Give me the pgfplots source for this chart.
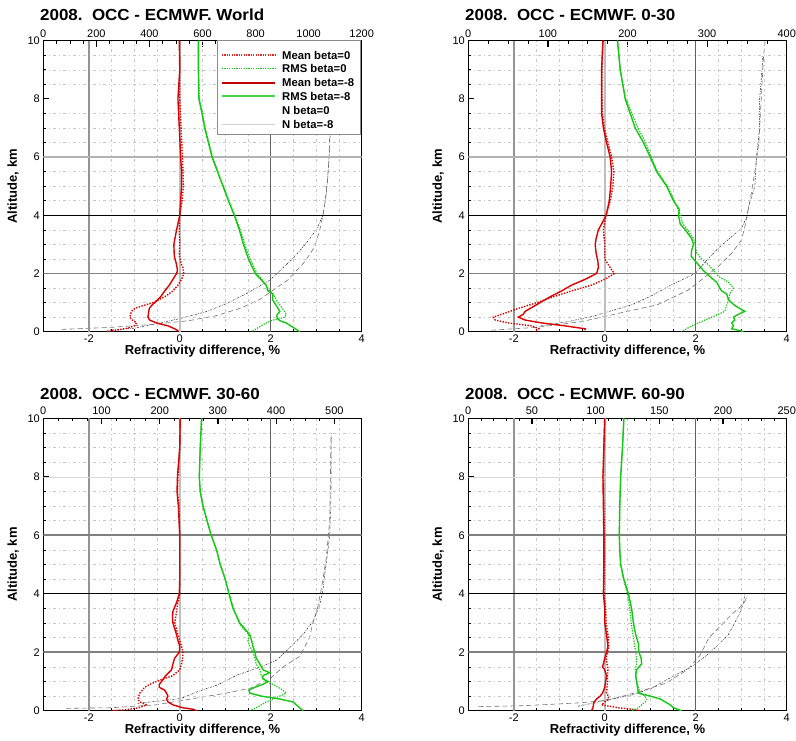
\documentclass[border=0pt]{standalone}
\usepackage{graphicx}
\usepackage{pgfplots}
\pgfplotsset{compat=1.18}
\usepackage{fontspec}
\setmainfont{Liberation Sans}
\setsansfont{Liberation Sans}

\definecolor{cred}{RGB}{220,0,0}
\definecolor{cgreen}{RGB}{20,200,20}
\definecolor{clgreen}{RGB}{70,215,70}

\pgfplotsset{
  mean0/.style={color=cred, line width=1.4pt, dash pattern=on 1.4pt off 1.4pt},
  mean8/.style={color=cred, line width=1.4pt, solid},
  rms0/.style={color=cgreen, line width=1.2pt, dash pattern=on 1.3pt off 1.3pt},
  rms8/.style={color=cgreen, line width=1.4pt, solid},
  n0/.style={color=black!85, line width=0.5pt, dash pattern=on 2pt off 1.2pt on 0.6pt off 1.2pt},
  n8/.style={color=black!55, line width=0.6pt, dash pattern=on 5pt off 3pt},
  common/.style={
    scale only axis, width=318.4pt, height=291pt, anchor=south west,
    ymin=0, ymax=10, no markers,
    tick align=inside,
    major tick length=6pt, minor tick length=3pt,
    major tick style={black, line width=1.2pt},
    minor tick style={black, line width=0.6pt},
    ticklabel style={font=\fontsize{11}{13}\selectfont},
    /pgf/number format/assume math mode=true,
    /pgf/number format/1000 sep={},
    scaled ticks=false,
  },
  mainax/.style={
    common,
    xmin=-3, xmax=4,
    xtick={-2,0,2,4}, ytick={0,2,4,6,8,10},
    minor x tick num=3, minor y tick num=3,
    xminorgrids=true, yminorgrids=true,
    minor grid style={black!22, dash pattern=on 3pt off 3pt on 1pt off 3pt, line width=0.5pt},
    xtick pos=left, ytick pos=left,
    axis line style={line width=1.4pt},
    xlabel={Refractivity difference, \%}, ylabel={Altitude, km},
    label style={font=\fontsize{13}{15}\selectfont\bfseries},
    xlabel style={at={(axis description cs:0.5,-0.068)}, anchor=center},
    ylabel style={at={(axis description cs:-0.095,0.5)}, anchor=center},
  },
  topax/.style={
    common,
    axis x line*=top, axis y line=none,
    axis line style={-, line width=1.4pt},
  },
}

\newcommand{\majorlines}[2]{%
  \draw[black!42, line width=1.6pt] (axis cs:-2,0) -- (axis cs:-2,10);
  \draw[black!25, line width=1.6pt] (axis cs:0,0) -- (axis cs:0,10);
  \draw[black!62, line width=1.2pt] (axis cs:2,0) -- (axis cs:2,10);
  \draw[black!50, line width=1.8pt] (axis cs:-3,2) -- (axis cs:4,2);
  \draw[black, line width=0.8pt] (axis cs:-3,4) -- (axis cs:4,4);
  \draw[#1] (axis cs:-3,6) -- (axis cs:4,6);
  \draw[#2] (axis cs:-3,8) -- (axis cs:4,8);
}
\newcommand{\ttl}[1]{\fontsize{16}{19}\selectfont\bfseries\scalebox{1.06}[1]{#1}}
\newcommand{\lrow}[3]{% y, style, text
  \draw[#2] (222pt,#1) -- (275pt,#1);
  \node[anchor=west, inner sep=0pt, font=\fontsize{11.3}{13.5}\selectfont\bfseries] at (282pt,#1) {#3};
}

\begin{document}
\begin{tikzpicture}
\useasboundingbox (0pt,0pt) rectangle (796pt,740pt);

%================ Panel 1: World
\begin{axis}[topax, at={(43.3pt,408.3pt)}, xmin=0, xmax=1200, xtick={0,200,...,1200}, minor x tick num=3]
\addplot[n0] coordinates {(240,0.05) (343,0.12) (411,0.25) (514,0.45) (615,0.69) (691,0.97) (766,1.31) (854,1.77) (941,2.52) (991,3.04) (1029,3.5) (1054,4.01) (1061,4.41) (1066,4.75) (1072,5.3) (1076,5.8) (1080,6.5) (1082,7.0) (1085,8) (1088,9) (1090,10)};
\addplot[n8] coordinates {(69,0.08) (257,0.15) (411,0.25) (549,0.38) (651,0.55) (741,0.8) (816,1.11) (922,1.78) (986,2.41) (1023,2.92) (1042,3.5) (1054,4.0) (1063,4.5) (1071,5.2) (1077,6.0) (1080,7.0) (1084,8) (1087,9) (1089,10)};
\end{axis}
\begin{axis}[mainax, at={(43.3pt,408.3pt)}]
\majorlines{black!30, line width=1.6pt}{draw=none}
\addplot[mean0] coordinates {(0.0,10) (0.0,9) (0.0,8) (0.03,7) (0.06,6) (0.08,5) (0.05,4.5) (0.0,4) (-0.01,3.5) (0.0,3) (-0.01,2.6) (0.04,2.3) (0.07,2.2) (0.09,2.0) (0.04,1.8) (-0.04,1.6) (-0.15,1.4) (-0.33,1.2) (-0.59,1.0) (-0.8,0.9) (-0.99,0.8) (-1.06,0.7) (-1.1,0.5) (-1.04,0.4) (-0.95,0.3) (-1.0,0.2) (-1.15,0.12) (-1.4,0.05) (-1.6,0.0)};
\addplot[rms0] coordinates {(0.41,10) (0.41,9) (0.43,8) (0.5,7.5) (0.56,7) (0.64,6.5) (0.72,6) (0.84,5.5) (0.96,5) (1.08,4.5) (1.21,4) (1.33,3.5) (1.43,3) (1.55,2.5) (1.7,2.0) (1.85,1.7) (1.98,1.4) (2.09,1.2) (2.16,1.0) (2.26,0.8) (2.34,0.6) (2.31,0.5) (2.2,0.45) (2.05,0.4) (1.9,0.3) (1.79,0.2) (1.68,0.1) (1.58,0.0)};
\addplot[mean8] coordinates {(-0.01,10) (0.0,9) (-0.04,8) (-0.01,7) (0.02,6) (0.04,5.5) (0.04,5) (0.02,4.5) (0,4) (-0.07,3.5) (-0.13,3) (-0.12,2.6) (-0.07,2.3) (-0.05,2.1) (-0.07,2) (-0.15,1.8) (-0.23,1.6) (-0.33,1.4) (-0.42,1.2) (-0.55,1.0) (-0.62,0.9) (-0.67,0.8) (-0.69,0.6) (-0.7,0.5) (-0.66,0.4) (-0.51,0.3) (-0.26,0.2) (-0.11,0.1) (-0.03,0.02)};
\addplot[rms8] coordinates {(0.41,10) (0.41,9) (0.42,8) (0.49,7.5) (0.55,7) (0.63,6.5) (0.71,6) (0.83,5.5) (0.95,5) (1.07,4.5) (1.2,4) (1.31,3.5) (1.4,3) (1.51,2.5) (1.66,2.0) (1.78,1.8) (1.9,1.6) (1.94,1.4) (2.05,1.3) (2.04,1.1) (2.08,1.0) (2.14,0.85) (2.2,0.7) (2.13,0.55) (2.15,0.45) (2.2,0.38) (2.34,0.3) (2.49,0.15) (2.64,0.0)};
\end{axis}

%================ Panel 2: 0-30
\begin{axis}[topax, at={(468.3pt,408.3pt)}, xmin=0, xmax=400, xtick={0,100,...,400}, minor x tick num=3]
\addplot[n0] coordinates {(91,0.2) (126,0.35) (155,0.52) (176,0.69) (205,0.92) (230,1.23) (255,1.61) (285,2.0) (298,2.41) (314,2.87) (331,3.27) (343,3.55) (350,3.95) (352,4.3) (360,5) (362,6) (366,7) (366,8) (369,9) (370,9.5)};
\addplot[n8] coordinates {(29,0.05) (86,0.15) (143,0.35) (200,0.7) (237,0.92) (255,1.15) (277,1.44) (314,2.24) (331,2.7) (343,3.15) (347,3.55) (354,4.5) (360,5.5) (365,6.5) (367,7.5) (369,8.5) (371,9.5) (373,10)};
\end{axis}
\begin{axis}[mainax, at={(468.3pt,408.3pt)}]
\majorlines{black!30, line width=1.6pt}{draw=none}
\addplot[mean0] coordinates {(-0.04,10) (-0.06,9) (-0.06,8) (-0.05,7.5) (-0.01,7) (0.07,6.5) (0.15,6) (0.2,5.5) (0.18,5) (0.12,4.5) (0.03,4) (-0.03,3.5) (0.0,3) (0.0,2.5) (0.12,2.2) (0.21,2.0) (0.0,1.8) (-0.29,1.6) (-0.73,1.4) (-1.13,1.2) (-1.49,1.0) (-1.9,0.8) (-2.26,0.6) (-2.45,0.5) (-2.41,0.4) (-2.12,0.3) (-1.6,0.2) (-1.45,0.1) (-1.55,0.0)};
\addplot[rms0] coordinates {(0.28,10) (0.34,9) (0.46,8) (0.6,7.5) (0.73,7) (0.9,6.5) (1.02,6) (1.16,5.5) (1.38,5) (1.53,4.5) (1.66,4) (1.72,3.7) (1.82,3.5) (1.95,3.2) (1.99,3.0) (2.02,2.7) (2.13,2.5) (2.28,2.3) (2.39,2.1) (2.5,1.9) (2.72,1.7) (2.83,1.5) (2.75,1.3) (2.72,1.1) (2.68,0.9) (2.64,0.7) (2.35,0.5) (2.2,0.4) (2.06,0.3) (1.91,0.2) (1.8,0.1) (1.69,0.0)};
\addplot[mean8] coordinates {(-0.04,10) (-0.07,9) (-0.07,8) (-0.07,7.5) (-0.03,7) (0.04,6.5) (0.12,6) (0.15,5.5) (0.13,5) (0.1,4.5) (0.03,4) (-0.07,3.7) (-0.14,3.5) (-0.19,3.2) (-0.21,3.0) (-0.19,2.7) (-0.15,2.4) (-0.14,2.2) (-0.18,2.0) (-0.43,1.8) (-0.73,1.6) (-0.95,1.4) (-1.2,1.2) (-1.42,1.0) (-1.53,0.9) (-1.75,0.7) (-1.79,0.6) (-1.9,0.5) (-1.75,0.4) (-1.38,0.3) (-0.87,0.2) (-0.43,0.1) (-0.44,0.05)};
\addplot[rms8] coordinates {(0.28,10) (0.34,9) (0.45,8) (0.56,7.5) (0.67,7) (0.85,6.5) (1.0,6) (1.14,5.5) (1.36,5) (1.51,4.5) (1.64,4.2) (1.62,4) (1.66,3.7) (1.77,3.5) (1.91,3.2) (1.95,3.0) (1.91,2.8) (1.9,2.6) (1.95,2.5) (2.06,2.3) (2.17,2.1) (2.31,1.9) (2.46,1.7) (2.53,1.5) (2.57,1.4) (2.68,1.3) (2.72,1.1) (2.86,0.9) (2.97,0.8) (3.08,0.7) (2.94,0.6) (2.83,0.5) (2.86,0.4) (2.79,0.3) (2.83,0.2) (2.79,0.1) (2.94,0.05) (3.05,0.0)};
\end{axis}

%================ Panel 3: 30-60
\begin{axis}[topax, at={(43.3pt,29.3pt)}, height=292.4pt, xmin=0, xmax=547, xtick={0,100,...,500}, minor x tick num=3]
\addplot[n0] coordinates {(162,0.25) (208,0.35) (237,0.42) (265,0.65) (299,0.88) (333,1.22) (367,1.45) (401,1.73) (424,2.17) (446,2.6) (463,3.05) (474,3.56) (480,4.07) (483,4.58) (486,5.04) (489,5.5) (492,6) (494,7) (494.5,8) (494.5,9.5)};
\addplot[n8] coordinates {(39,0.08) (116,0.1) (193,0.2) (239,0.35) (277,0.48) (311,0.59) (356,0.77) (390,1.1) (412,1.5) (440,1.85) (457,2.48) (463,2.99) (471,3.5) (478,4.2) (486,5.2) (492,6.5) (494.5,9.5)};
\end{axis}
\begin{axis}[mainax, at={(43.3pt,29.3pt)}, height=292.4pt]
\majorlines{black!50, line width=1.8pt}{black!15, line width=0.5pt}
\addplot[mean0] coordinates {(0.01,10) (0.0,9) (-0.04,8) (-0.05,7.5) (-0.02,7) (0.0,6) (0.0,5) (0.0,4.5) (0.0,4) (-0.04,3.7) (-0.07,3.4) (-0.11,3.0) (-0.04,2.6) (0.04,2.2) (0.07,2.0) (0.06,1.8) (0.04,1.6) (0.0,1.4) (-0.15,1.2) (-0.51,1.0) (-0.66,0.9) (-0.77,0.8) (-0.88,0.6) (-0.92,0.4) (-0.88,0.3) (-0.73,0.2) (-0.9,0.1) (-1.2,0.03) (-1.5,0.0)};
\addplot[rms0] coordinates {(0.48,10) (0.45,9) (0.43,8) (0.45,7.5) (0.51,7) (0.6,6.5) (0.69,6) (0.81,5.5) (0.89,5) (1.0,4.5) (1.09,4) (1.18,3.5) (1.3,3.0) (1.4,2.8) (1.52,2.6) (1.5,2.4) (1.54,2.2) (1.61,2.0) (1.65,1.8) (1.68,1.6) (1.76,1.4) (1.79,1.2) (1.9,1.0) (2.05,0.9) (2.27,0.7) (2.34,0.6) (2.2,0.5) (2.05,0.4) (1.9,0.3) (1.79,0.2) (1.68,0.1) (1.54,0.0)};
\addplot[mean8] coordinates {(0.01,10) (0.0,9) (-0.05,8) (-0.06,7.5) (-0.03,7) (0.0,6) (0.0,5) (0.0,4.5) (-0.01,4) (-0.07,3.7) (-0.15,3.4) (-0.16,3.2) (-0.15,3.0) (-0.11,2.8) (-0.07,2.6) (-0.04,2.4) (0.0,2.2) (-0.01,2.0) (-0.11,1.8) (-0.15,1.6) (-0.18,1.4) (-0.31,1.2) (-0.4,1.0) (-0.45,0.9) (-0.45,0.8) (-0.33,0.7) (-0.29,0.6) (-0.26,0.5) (-0.29,0.4) (-0.26,0.3) (-0.15,0.2) (0.07,0.1) (0.29,0.05) (0.37,0.0)};
\addplot[rms8] coordinates {(0.48,10) (0.45,9) (0.43,8) (0.45,7.5) (0.51,7) (0.6,6.5) (0.69,6) (0.81,5.5) (0.89,5) (1.0,4.5) (1.08,4) (1.17,3.5) (1.32,3.0) (1.43,2.8) (1.54,2.6) (1.58,2.4) (1.61,2.2) (1.65,2.0) (1.68,1.8) (1.76,1.6) (1.83,1.4) (1.98,1.3) (1.83,1.2) (1.82,1.1) (1.94,1.0) (1.83,0.9) (1.65,0.8) (1.52,0.7) (1.54,0.6) (1.79,0.5) (2.2,0.4) (2.49,0.3) (2.6,0.15) (2.71,0.0)};
\end{axis}

%================ Panel 4: 60-90
\begin{axis}[topax, at={(468.3pt,29.3pt)}, height=292.4pt, xmin=0, xmax=250, xtick={0,50,...,250}, minor x tick num=4]
\addplot[n0] coordinates {(86,0.15) (107,0.35) (128,0.53) (144,0.77) (160,1.16) (175,1.5) (186,1.85) (196,2.24) (204,2.59) (209,2.99) (213,3.33) (216,3.67) (217,3.96)};
\addplot[n8] coordinates {(8,0.14) (43,0.17) (70,0.23) (88,0.27) (110,0.36) (134,0.65) (155,0.94) (172,1.4) (182,1.9) (189,2.5) (197.5,2.87) (207,3.3) (216,3.65) (219,3.9)};
\end{axis}
\begin{axis}[mainax, at={(468.3pt,29.3pt)}, height=292.4pt]
\majorlines{black!50, line width=1.8pt}{black!15, line width=0.5pt}
\addplot[mean0] coordinates {(0.0,10) (-0.02,9) (-0.03,8) (-0.02,7) (-0.01,6) (-0.01,5) (-0.02,4) (0.02,3.5) (0.03,3) (0.07,2.6) (0.09,2.2) (0.06,2.0) (0.03,1.8) (0.05,1.6) (0.07,1.4) (0.06,1.2) (0.06,1.0) (0.05,0.8) (0.04,0.6) (0.08,0.5) (0.08,0.4) (0.0,0.3) (-0.07,0.2) (0.3,0.1) (0.6,0.05) (0.8,0.0)};
\addplot[rms0] coordinates {(0.42,10) (0.39,9) (0.35,8) (0.33,7) (0.32,6) (0.33,5.5) (0.35,5) (0.41,4.5) (0.5,4) (0.55,3.5) (0.58,3) (0.63,2.5) (0.68,2.0) (0.7,1.8) (0.7,1.6) (0.67,1.4) (0.7,1.0) (0.74,0.8) (0.78,0.6) (0.89,0.5) (0.92,0.4) (0.89,0.3) (0.81,0.2) (0.74,0.1) (0.59,0.0)};
\addplot[mean8] coordinates {(0.0,10) (-0.02,9) (-0.04,8) (-0.03,7) (-0.02,6) (-0.02,5) (-0.03,4) (0.0,3.5) (0.0,3) (0.04,2.6) (0.07,2.2) (0.04,2.0) (0.0,1.8) (-0.03,1.6) (-0.05,1.5) (0.0,1.4) (0.04,1.2) (0.02,1.0) (0.0,0.8) (-0.05,0.6) (-0.1,0.5) (-0.18,0.4) (-0.23,0.3) (-0.25,0.2) (-0.26,0.1) (-0.29,0.0)};
\addplot[rms8] coordinates {(0.42,10) (0.39,9) (0.35,8) (0.33,7) (0.32,6) (0.33,5.5) (0.35,5) (0.42,4.5) (0.52,4) (0.59,3.5) (0.63,3) (0.68,2.6) (0.74,2.3) (0.75,2.0) (0.8,1.8) (0.81,1.6) (0.7,1.4) (0.68,1.2) (0.7,1.0) (0.72,0.8) (0.74,0.6) (1.0,0.5) (1.22,0.4) (1.33,0.3) (1.44,0.2) (1.51,0.1) (1.69,0.0)};
\end{axis}

% legend of the first panel
\draw[black!45, fill=white, line width=0.8pt] (217pt,606pt) rectangle (360.6pt,699.3pt);
\lrow{685pt}{cred!85!white, line width=1.2pt, dash pattern=on 1.2pt off 1.2pt}{Mean beta=0}
\lrow{671.2pt}{cgreen, line width=1.0pt, dash pattern=on 1.2pt off 1.2pt}{RMS beta=0}
\lrow{657.4pt}{cred!90!black, line width=2pt}{Mean beta=-8}
\lrow{643.6pt}{clgreen, line width=2pt}{RMS beta=-8}
\lrow{629.8pt}{white, line width=0.5pt}{N beta=0}
\lrow{616pt}{black!18, line width=0.9pt}{N beta=-8}

% titles
\node[anchor=base west, inner sep=0pt] at (40pt,719.3pt) {\ttl{2008.\ \ OCC - ECMWF. World}};
\node[anchor=base west, inner sep=0pt] at (465pt,719.3pt) {\ttl{2008.\ \ OCC - ECMWF. 0-30}};
\node[anchor=base west, inner sep=0pt] at (40pt,340.5pt) {\ttl{2008.\ \ OCC - ECMWF. 30-60}};
\node[anchor=base west, inner sep=0pt] at (465pt,340.5pt) {\ttl{2008.\ \ OCC - ECMWF. 60-90}};
\end{tikzpicture}
\end{document}
